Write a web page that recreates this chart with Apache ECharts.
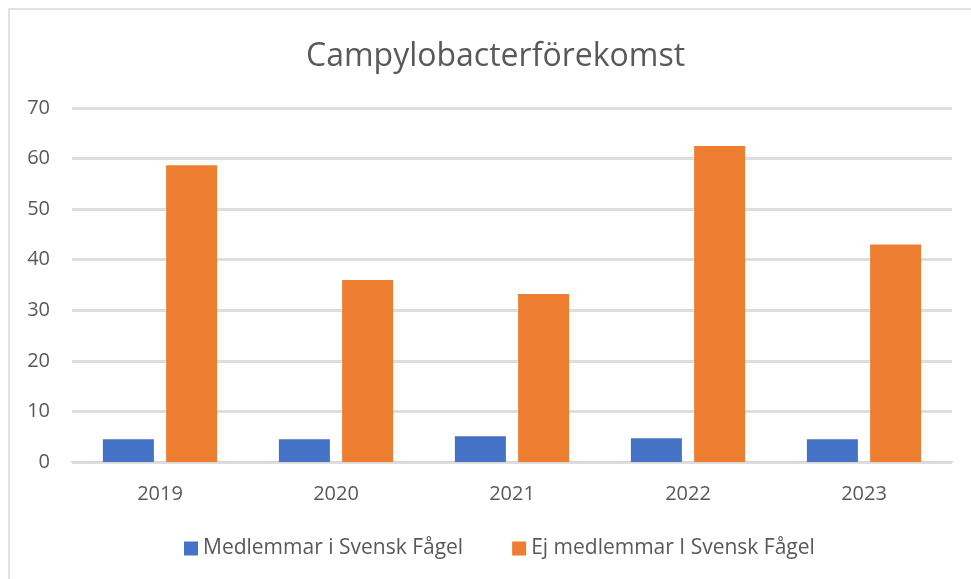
<!DOCTYPE html>
<html>
<head>
<meta charset="utf-8">
<script src="https://cdn.jsdelivr.net/npm/echarts@6/dist/echarts.min.js"></script>
<style>
  html, body { margin: 0; padding: 0; background: #fff; overflow: hidden; }
  #chart { width: 971px; height: 579px; }
  #frame { position: absolute; left: 8px; top: 8px; width: 2000px; height: 2000px;
           border-left: 2px solid #e2e2e2; border-top: 2px solid #e2e2e2; pointer-events: none; }
</style>
</head>
<body>
<div id="chart"></div>
<div id="frame"></div>
<script>
// år på x-axeln
var years = ['2019', '2020', '2021', '2022', '2023'];
// serienamn
var seriesNames = ['Medlemmar i Svensk Fågel', 'Ej medlemmar I Svensk Fågel'];
// värden
var members = [4.5, 4.5, 5.1, 4.7, 4.5];
var nonMembers = [58.7, 36.0, 33.2, 62.5, 43.0];
var yTicks = { min: 0, max: 70, interval: 10 };

var textColor = '#595959';
var font = 'Open Sans';

var myChart = echarts.init(document.getElementById('chart'));
var option = {
  backgroundColor: '#fff',
  title: {
    text: 'Campylobacterförekomst',
    left: 301,
    top: 36,
    textStyle: { fontFamily: font, fontWeight: 'normal', fontSize: 32, color: textColor }
  },
  legend: {
    data: seriesNames,
    bottom: 15,
    left: 179,
    icon: 'rect',
    itemWidth: 14,
    itemHeight: 14,
    itemGap: 49,
    textStyle: { fontFamily: font, fontSize: 21, color: textColor }
  },
  grid: { left: 72, right: 19, top: 108, bottom: 117 },
  xAxis: {
    type: 'category',
    data: years,
    axisTick: { show: false },
    axisLine: { lineStyle: { color: '#d9d9d9', width: 2 } },
    axisLabel: { fontFamily: font, fontSize: 20, color: textColor, margin: 22 }
  },
  yAxis: {
    type: 'value',
    min: yTicks.min,
    max: yTicks.max,
    interval: yTicks.interval,
    axisLine: { show: false },
    axisTick: { show: false },
    axisLabel: { fontFamily: font, fontSize: 20, color: textColor, margin: 22 },
    splitLine: { lineStyle: { color: '#dedede', width: 3 } }
  },
  series: [{
    name: seriesNames[0],
    type: 'bar',
    barWidth: 51,
    barGap: '24%',
    itemStyle: { color: '#4472C4' },
    data: members
  }, {
    name: seriesNames[1],
    type: 'bar',
    barWidth: 51,
    barGap: '24%',
    itemStyle: { color: '#ED7D31' },
    data: nonMembers
  }]
};
myChart.setOption(option);
</script>
</body>
</html>
